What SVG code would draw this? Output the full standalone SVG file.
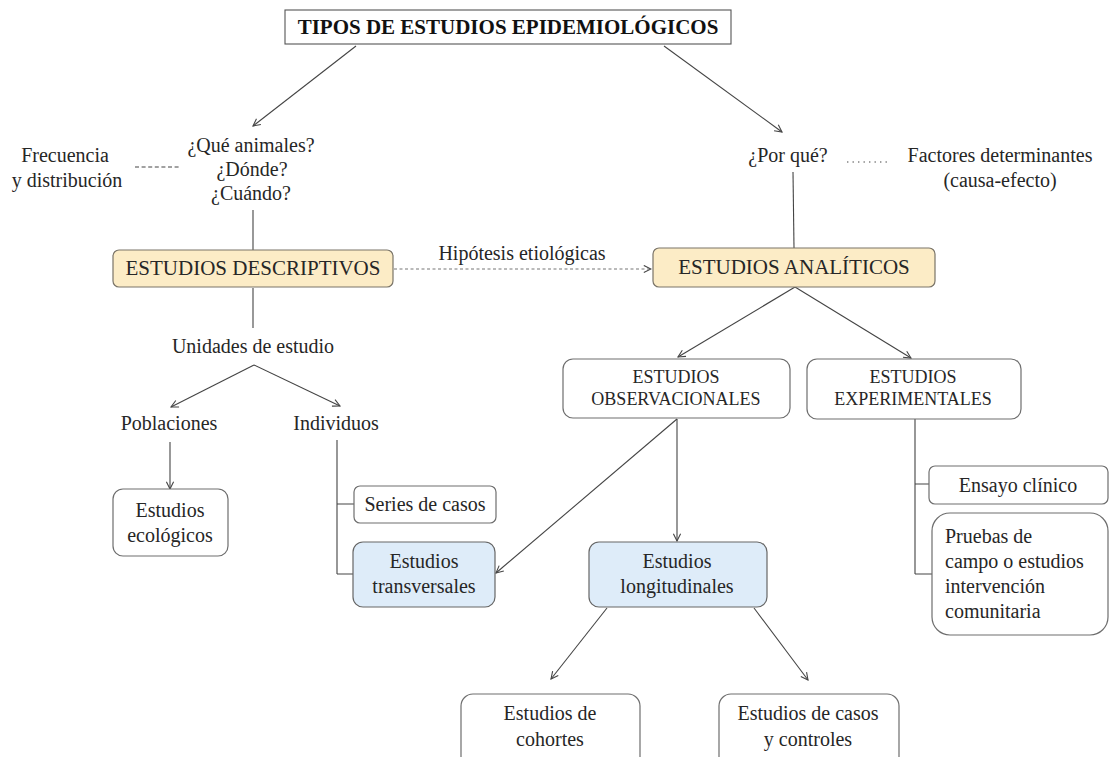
<svg xmlns="http://www.w3.org/2000/svg" width="1113" height="757" viewBox="0 0 1113 757">
<defs>
<marker id="arr" viewBox="0 0 10 10" refX="9" refY="5" markerWidth="9" markerHeight="9" markerUnits="userSpaceOnUse" orient="auto">
<path d="M1,1 L9,5 L1,9" fill="none" stroke="#444" stroke-width="1.2"/>
</marker>
</defs>
<style>
text{font-family:"Liberation Serif","Times New Roman",serif;fill:#262626;font-size:20px;text-anchor:middle}
.caps{font-size:18px}
.big{font-size:21px}
.title{font-weight:bold;font-size:21px;fill:#111}
.box{fill:#fff;stroke:#6e6e6e;stroke-width:1.2}
.yel{fill:#fcecc6;stroke:#7a7468;stroke-width:1.2}
.blue{fill:#deecf9;stroke:#666;stroke-width:1.2}
.c line,.c path{stroke:#444;stroke-width:1.1;fill:none}
.c .a{marker-end:url(#arr)}
.c .dash{stroke:#777;stroke-dasharray:3 2.5}
.left{text-anchor:start}
</style>

<g class="c" id="connectors">
<line class="a" x1="356" y1="46" x2="253" y2="126"/>
<line class="a" x1="664" y1="46" x2="782" y2="132"/>
<line x1="253" y1="210" x2="253" y2="250"/>
<line x1="793" y1="172" x2="794" y2="248"/>
<line class="a dash" x1="394" y1="269" x2="651" y2="269"/>
<line x1="253" y1="288" x2="253" y2="328"/>
<line class="a" x1="254" y1="365" x2="171" y2="407"/>
<line class="a" x1="254" y1="365" x2="340" y2="406"/>
<line class="a" x1="170" y1="442" x2="170" y2="489"/>
<path d="M337,440 V574 M337,504 H354 M337,574 H353"/>
<line class="a" x1="795" y1="287" x2="678" y2="357"/>
<line class="a" x1="795" y1="287" x2="911" y2="358"/>
<line class="a" x1="677" y1="419" x2="496" y2="573"/>
<line class="a" x1="677" y1="419" x2="677" y2="541"/>
<path d="M915,419 V574 M915,484 H929 M915,574 H932"/>
<line class="a" x1="607" y1="608" x2="551" y2="679"/>
<line class="a" x1="754" y1="608" x2="808" y2="680"/>
<line x1="135" y1="167" x2="179" y2="167" stroke="#555" stroke-width="1" stroke-dasharray="4 2.6"/>
<line x1="847" y1="162" x2="891" y2="162" stroke="#555" stroke-width="1.6" stroke-dasharray="1.4 4.1"/>
</g>

<g id="title">
<rect x="285" y="10" width="446" height="34" fill="#fff" stroke="#555" stroke-width="1.1"/>
<text class="title" x="508" y="34">TIPOS DE ESTUDIOS EPIDEMIOLÓGICOS</text>
</g>

<g id="preguntas-desc">
<text x="251" y="152">¿Qué animales?</text>
<text x="252" y="176">¿Dónde?</text>
<text x="251" y="200">¿Cuándo?</text>
</g>

<g id="frecuencia">
<text x="65" y="162">Frecuencia</text>
<text x="67" y="187">y distribución</text>
</g>

<g id="porque">
<text x="788" y="162">¿Por qué?</text>
</g>

<g id="factores">
<text x="1000" y="162">Factores determinantes</text>
<text x="1000" y="187">(causa-efecto)</text>
</g>

<g id="descriptivos">
<rect class="yel" x="113" y="250" width="280" height="37" rx="6"/>
<text class="big" x="253" y="275">ESTUDIOS DESCRIPTIVOS</text>
</g>

<g id="hipotesis">
<text x="522" y="260">Hipótesis etiológicas</text>
</g>

<g id="analiticos">
<rect class="yel" x="653" y="248" width="282" height="39" rx="6"/>
<text class="big" x="794" y="274">ESTUDIOS ANALÍTICOS</text>
</g>

<g id="unidades">
<text x="253" y="353">Unidades de estudio</text>
</g>

<g id="poblaciones">
<text x="169" y="430">Poblaciones</text>
</g>

<g id="individuos">
<text x="336" y="430">Individuos</text>
</g>

<g id="ecologicos">
<rect class="box" x="113" y="489" width="115" height="67" rx="10"/>
<text x="170" y="517">Estudios</text>
<text x="170" y="542">ecológicos</text>
</g>

<g id="series">
<rect class="box" x="354" y="486" width="142" height="37" rx="6"/>
<text x="425" y="511">Series de casos</text>
</g>

<g id="transversales">
<rect class="blue" x="353" y="542" width="142" height="65" rx="10"/>
<text x="424" y="568">Estudios</text>
<text x="424" y="593">transversales</text>
</g>

<g id="observacionales">
<rect class="box" x="563" y="359" width="227" height="59" rx="10"/>
<text class="caps" x="676" y="383">ESTUDIOS</text>
<text class="caps" x="676" y="405">OBSERVACIONALES</text>
</g>

<g id="experimentales">
<rect class="box" x="807" y="359" width="214" height="60" rx="10"/>
<text class="caps" x="913" y="383">ESTUDIOS</text>
<text class="caps" x="913" y="405">EXPERIMENTALES</text>
</g>

<g id="longitudinales">
<rect class="blue" x="589" y="542" width="178" height="65" rx="10"/>
<text x="677" y="568">Estudios</text>
<text x="677" y="593">longitudinales</text>
</g>

<g id="ensayo">
<rect class="box" x="929" y="466" width="179" height="38" rx="6"/>
<text x="1018" y="492">Ensayo clínico</text>
</g>

<g id="pruebas">
<rect class="box" x="932" y="513" width="176" height="122" rx="18"/>
<text class="left" x="945" y="543">Pruebas de</text>
<text class="left" x="945" y="568">campo o estudios</text>
<text class="left" x="945" y="593">intervención</text>
<text class="left" x="945" y="618">comunitaria</text>
</g>

<g id="cohortes">
<rect class="box" x="461" y="694" width="179" height="75" rx="12"/>
<text x="550" y="720">Estudios de</text>
<text x="550" y="746">cohortes</text>
</g>

<g id="casos">
<rect class="box" x="719" y="694" width="180" height="75" rx="12"/>
<text x="808" y="720">Estudios de casos</text>
<text x="808" y="746">y controles</text>
</g>
</svg>
